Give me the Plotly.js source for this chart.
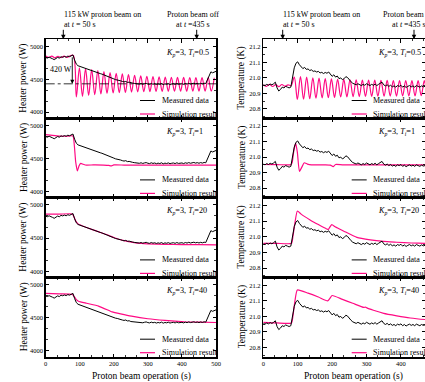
<!DOCTYPE html>
<html><head><meta charset="utf-8">
<script src="https://cdn.plot.ly/plotly-3.0.1.min.js"></script>
<style>html,body{margin:0;padding:0;background:#fff}#chart{width:425px;height:382px}</style>
</head><body><div id="chart"></div>
<script>
// ---------------- DATA ----------------
// Measured data sampled every 5 s from t = 0 s
const measStep = 5;
const heaterMeasured = [4830,4822,4836,4818,4812,4798,4810,4832,4822,4842,4834,4846,4836,4852,4843,4856,4870,4790,4730,4705,
4695,4688,4680,4668,4664,4648,4640,4628,4624,4608,4600,4593,4586,4578,4566,4553,4546,4533,4526,4513,
4505,4494,4490,4478,4476,4466,4460,4466,4452,4455,4443,4441,4436,4432,4438,4426,4434,4424,4432,4437,
4427,4422,4434,4424,4431,4420,4429,4422,4434,4418,4429,4423,4432,4420,4427,4431,4422,4434,4424,4429,
4431,4422,4434,4426,4437,4427,4433,4439,4429,4436,4427,4437,4429,4439,4434,4490,4570,4612,4598,4610,4620];
const tempMeasured = [20.955,20.950,20.958,20.952,20.960,20.955,20.962,20.972,20.935,20.915,20.925,20.940,20.935,20.945,20.940,20.935,20.940,21.000,21.065,21.095,
21.104,21.085,21.070,21.060,21.068,21.055,21.058,21.048,21.052,21.042,21.045,21.038,21.042,21.032,21.036,21.028,21.035,21.030,21.038,21.025,
21.010,21.020,21.005,21.012,20.995,21.000,20.988,20.995,21.008,21.002,20.985,20.975,20.965,20.960,20.955,20.962,20.955,20.950,20.958,20.952,
20.962,20.955,20.950,20.958,20.952,20.960,20.950,20.958,20.965,20.972,20.955,20.948,20.955,20.945,20.952,20.942,20.948,20.940,20.950,20.945,
20.952,20.940,20.948,20.938,20.945,20.950,20.942,20.948,20.940,20.950,20.945,20.940,20.948,20.942,20.945,20.940,20.948,20.942,20.945,20.940,20.944];

// Simulation, Kp=3, Ti=0.5 : sampled every 9 s from t = 0 s (peaks / troughs)
const simStepTi05 = 9;
const simHeaterTi05 = [4855,4832,4852,4826,4850,4830,4852,4834,4858,4862,4230,4675,4240,4660,4255,4645,4265,4630,4275,4615,
4285,4600,4290,4590,4295,4580,4300,4570,4305,4560,4308,4552,4310,4545,4312,4540,4314,4535,4315,4532,
4316,4530,4317,4528,4318,4527,4318,4526,4319,4525,4320,4524,4320,4524,4320,4523];
const simTempTi05 = [20.955,20.945,20.958,20.944,20.956,20.943,20.957,20.945,20.955,20.950,21.005,20.860,21.008,20.862,21.005,20.865,21.000,20.868,20.998,20.870,
20.995,20.872,20.993,20.874,20.991,20.876,20.990,20.877,20.988,20.878,20.987,20.879,20.986,20.880,20.985,20.880,20.985,20.881,20.984,20.881,
20.984,20.882,20.983,20.882,20.983,20.883,20.983,20.883,20.982,20.883,20.982,20.884,20.982,20.884,20.982,20.884];

// Simulation, Kp=3, Ti=1
const simHeaterTi1Time = [0,20,40,60,80,84,88,93,98,103,110,120,140,170,185,192,200,230,300,400,500];
const simHeaterTi1 = [4860,4848,4838,4836,4840,4700,4450,4310,4390,4425,4412,4398,4402,4400,4396,4386,4401,4400,4400,4400,4400];
const simTempTi1Time = [0,40,80,84,88,94,99,105,112,119,128,140,180,195,203,210,230,300,400,500];
const simTempTi1 = [20.952,20.951,20.951,20.965,21.030,21.090,21.030,20.908,20.935,20.963,20.955,20.950,20.950,20.948,20.938,20.952,20.950,20.950,20.950,20.950];

// Simulation, Kp=3, Ti=20
const simHeaterTi20Time = [0,40,78,82,88,95,100,120,150,180,200,230,260,280,300,350,400,450,500];
const simHeaterTi20 = [4862,4860,4864,4830,4760,4715,4700,4660,4605,4550,4510,4462,4432,4420,4413,4406,4403,4401,4400];
const simTempTi20Time = [0,40,82,86,92,99,110,136,160,184,189,193,199,210,233,272,311,350,388,430,470,500];
const simTempTi20 = [20.958,20.958,20.958,21.000,21.090,21.165,21.145,21.108,21.078,21.050,21.046,21.060,21.078,21.062,21.037,20.996,20.980,20.970,20.965,20.960,20.958,20.956];

// Simulation, Kp=3, Ti=40
const simHeaterTi40Time = [0,40,78,84,90,96,120,155,190,195,220,252,300,350,408,450,500];
const simHeaterTi40 = [4869,4862,4853,4820,4775,4752,4720,4677,4600,4590,4560,4525,4485,4460,4440,4433,4428];
const simTempTi40Time = [0,40,82,86,92,99,130,160,187,193,200,230,260,292,297,301,320,350,388,427,470,500];
const simTempTi40 = [20.962,20.958,20.958,21.000,21.100,21.171,21.150,21.125,21.100,21.115,21.135,21.110,21.085,21.058,21.060,21.055,21.040,21.020,21.004,20.990,20.980,20.975];

const tiLabels = ['0.5','1','20','40'];
const heaterTicks = [4000,4500,5000];
const tempTicks = [20.8,20.9,21.0,21.1,21.2];
const timeTicks = [0,100,200,300,400,500];

// ---------------- LAYOUT HELPERS ----------------
const W = 425, H = 382;
const px = v => v / W;
const py = v => 1 - v / H;
const PINK = '#ff0a84';
const FONT = 'Liberation Serif, Times New Roman, serif';
const panelTop = [39.3, 118.3, 197.7, 277.7];
const panelBot = [118.3, 197.7, 277.7, 357];
const leftDom = [px(45.7), px(216)];
const rightDom = [px(263.3), 1];

const simSeries = [
  {hx: null, hy: simHeaterTi05, tx: null, ty: simTempTi05},
  {hx: simHeaterTi1Time, hy: simHeaterTi1, tx: simTempTi1Time, ty: simTempTi1},
  {hx: simHeaterTi20Time, hy: simHeaterTi20, tx: simTempTi20Time, ty: simTempTi20},
  {hx: simHeaterTi40Time, hy: simHeaterTi40, tx: simTempTi40Time, ty: simTempTi40}
];

const traces = [];
const layout = {
  width: W, height: H, margin: {l: 0, r: 0, t: 0, b: 0},
  paper_bgcolor: '#fff', plot_bgcolor: '#fff', showlegend: false,
  font: {family: FONT, color: '#000'},
  annotations: [], shapes: []
};

function axisBase() {
  return {
    showline: true, linewidth: 1.5, linecolor: '#000', mirror: 'allticks',
    ticks: 'inside', ticklen: 3.5, tickwidth: 1, tickcolor: '#000',
    showgrid: false, zeroline: false, fixedrange: true,
    tickfont: {family: FONT, size: 6.5, color: '#000'}
  };
}

for (let i = 0; i < 4; i++) {
  const nL = 2 * i + 1, nR = 2 * i + 2;
  const sfx = n => (n === 1 ? '' : String(n));
  const yDom = [py(panelBot[i]), py(panelTop[i])];
  const s = simSeries[i];

  // simulation (pink) first, measured (black) on top
  const hTrace = {type: 'scatter', mode: 'lines', xaxis: 'x' + sfx(nL), yaxis: 'y' + sfx(nL),
    y: s.hy, line: {color: PINK, width: 1.2, shape: 'spline', smoothing: i === 0 ? 1 : 0.5}, hoverinfo: 'skip'};
  if (s.hx) hTrace.x = s.hx; else { hTrace.x0 = 0; hTrace.dx = simStepTi05; }
  const tTrace = {type: 'scatter', mode: 'lines', xaxis: 'x' + sfx(nR), yaxis: 'y' + sfx(nR),
    y: s.ty, line: {color: PINK, width: 1.2, shape: 'spline', smoothing: i === 0 ? 1 : 0.5}, hoverinfo: 'skip'};
  if (s.tx) tTrace.x = s.tx; else { tTrace.x0 = 0; tTrace.dx = simStepTi05; }
  traces.push(hTrace, tTrace);
  traces.push({type: 'scatter', mode: 'lines', xaxis: 'x' + sfx(nL), yaxis: 'y' + sfx(nL),
    x0: 0, dx: measStep, y: heaterMeasured, line: {color: '#000', width: 1}, hoverinfo: 'skip'});
  traces.push({type: 'scatter', mode: 'lines', xaxis: 'x' + sfx(nR), yaxis: 'y' + sfx(nR),
    x0: 0, dx: measStep, y: tempMeasured, line: {color: '#000', width: 1}, hoverinfo: 'skip'});

  const xl = Object.assign(axisBase(), {domain: leftDom, range: [0, 500], anchor: 'y' + sfx(nL),
    tickvals: timeTicks, showticklabels: i === 3,
    minor: {dtick: 100 / 3, tick0: 0, ticks: 'inside', ticklen: 2, tickcolor: '#000', tickwidth: 0.8}});
  const xr = Object.assign(axisBase(), {domain: rightDom, range: [0, 470], anchor: 'y' + sfx(nR),
    tickvals: timeTicks, showticklabels: i === 3,
    minor: {dtick: 100 / 3, tick0: 0, ticks: 'inside', ticklen: 2, tickcolor: '#000', tickwidth: 0.8}});
  const yl = Object.assign(axisBase(), {domain: yDom, range: [3905, 5108], anchor: 'x' + sfx(nL),
    tickvals: heaterTicks, ticktext: heaterTicks.map(String),
    minor: {dtick: 500 / 3, tick0: 4000, ticks: 'inside', ticklen: 2, tickcolor: '#000', tickwidth: 0.8}});
  const yr = Object.assign(axisBase(), {domain: yDom, range: [20.738, 21.25], anchor: 'x' + sfx(nR),
    tickvals: tempTicks, ticktext: tempTicks.map(v => v.toFixed(1)),
    minor: {dtick: 0.05, tick0: 20.8, ticks: 'inside', ticklen: 2, tickcolor: '#000', tickwidth: 0.8}});
  layout['xaxis' + sfx(nL)] = xl;
  layout['xaxis' + sfx(nR)] = xr;
  layout['yaxis' + sfx(nL)] = yl;
  layout['yaxis' + sfx(nR)] = yr;

  // Kp / Ti labels
  const lab = '<i>K<sub>p</sub></i>=3, <i>T<sub>i</sub></i>=' + tiLabels[i];
  [164, 376].forEach(xp => layout.annotations.push({xref: 'paper', yref: 'paper', x: px(xp), y: py(panelTop[i] + 13.5),
    xanchor: 'left', yanchor: 'middle', showarrow: false, text: lab, font: {family: FONT, size: 8.2, color: '#000'}}));

  // legends
  [[140, 155, 159.5], [351.7, 366.7, 371]].forEach(([a, b, tx]) => {
    const r1 = panelBot[i] - 17.8, r2 = panelBot[i] - 4.3;
    layout.shapes.push({type: 'line', xref: 'paper', yref: 'paper', x0: px(a), x1: px(b), y0: py(r1), y1: py(r1), line: {color: '#000', width: 1}});
    layout.shapes.push({type: 'line', xref: 'paper', yref: 'paper', x0: px(a), x1: px(b), y0: py(r2), y1: py(r2), line: {color: PINK, width: 1.2}});
    layout.annotations.push({xref: 'paper', yref: 'paper', x: px(tx), y: py(r1), xanchor: 'left', yanchor: 'middle', showarrow: false,
      text: 'Measured data', font: {family: FONT, size: 8, color: '#000'}});
    layout.annotations.push({xref: 'paper', yref: 'paper', x: px(tx), y: py(r2), xanchor: 'left', yanchor: 'middle', showarrow: false,
      text: 'Simulation result', font: {family: FONT, size: 8, color: '#000'}});
  });

  // y titles
  const yc = (panelTop[i] + panelBot[i]) / 2;
  layout.annotations.push({xref: 'paper', yref: 'paper', x: px(24), y: py(yc), textangle: -90, showarrow: false,
    xanchor: 'center', yanchor: 'middle', text: 'Heater power (W)', font: {family: FONT, size: 9.5, color: '#000'}});
  layout.annotations.push({xref: 'paper', yref: 'paper', x: px(242), y: py(yc), textangle: -90, showarrow: false,
    xanchor: 'center', yanchor: 'middle', text: 'Temperature (K)', font: {family: FONT, size: 9.5, color: '#000'}});
}

// x titles
[141, 353].forEach(xc => layout.annotations.push({xref: 'paper', yref: 'paper', x: px(xc), y: py(376.5), showarrow: false,
  xanchor: 'center', yanchor: 'middle', text: 'Proton beam operation (s)', font: {family: FONT, size: 9.5, color: '#000'}}));

// Top event annotations
const topFont = {family: FONT, size: 8, color: '#000'};
[[61.5, 63.3], [280.5, 282.7]].forEach(([tx, ax]) => {
  layout.annotations.push({xref: 'paper', yref: 'paper', x: px(tx), y: py(20), xanchor: 'left', yanchor: 'middle', align: 'left',
    showarrow: false, text: '115 kW proton beam on<br>at <i>t</i> = 50 s', font: topFont});
  layout.annotations.push({xref: 'paper', yref: 'paper', x: px(ax), y: py(39.3), ax: 0, ay: -11, text: '', showarrow: true,
    arrowhead: 2, arrowsize: 0.9, arrowwidth: 1, arrowcolor: '#000'});
});
[[192.6, 196.7], [409.4, 414]].forEach(([tx, ax]) => {
  layout.annotations.push({xref: 'paper', yref: 'paper', x: px(tx), y: py(20), xanchor: 'center', yanchor: 'middle', align: 'center',
    showarrow: false, text: 'Proton beam off<br>at <i>t</i> =435 s', font: topFont});
  layout.annotations.push({xref: 'paper', yref: 'paper', x: px(ax), y: py(39.3), ax: 0, ay: -11, text: '', showarrow: true,
    arrowhead: 2, arrowsize: 0.9, arrowwidth: 1, arrowcolor: '#000'});
});

// 420 W marker in top-left panel
layout.shapes.push({type: 'line', xref: 'x', yref: 'y', x0: 0, x1: 500, y0: 4430, y1: 4430,
  line: {color: '#000', width: 0.8, dash: 'dashdot'}});
layout.annotations.push({xref: 'x', yref: 'y', x: 78, y: 4430, ax: 0, ay: -28, text: '', showarrow: true,
  arrowhead: 2, arrowsize: 0.9, arrowwidth: 0.9, arrowcolor: '#000'});
layout.annotations.push({xref: 'paper', yref: 'paper', x: px(48), y: py(69.3), xanchor: 'left', yanchor: 'middle',
  showarrow: false, text: '420 W', font: {family: FONT, size: 8, color: '#000'}});

Plotly.newPlot('chart', traces, layout, {staticPlot: true, displayModeBar: false});
</script>
</body></html>
